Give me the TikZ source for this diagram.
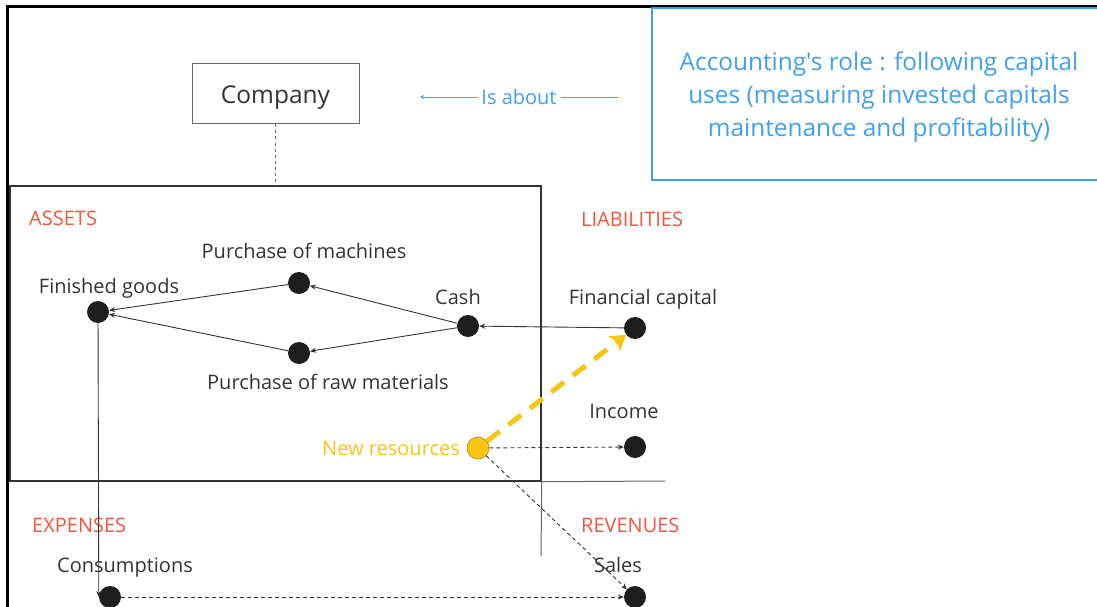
\documentclass[tikz,border=0pt]{standalone}
\usepackage{fontspec}
\setmainfont{Open Sans}
\newfontfamily\rolefont{Open Sans}
\usetikzlibrary{shapes,arrows.meta}

\definecolor{dotgray}{HTML}{1E1E1E}
\definecolor{boxgray}{HTML}{666666}
\definecolor{rolebl}{HTML}{3FA0EE}
\definecolor{catred}{HTML}{F2553B}
\definecolor{resyel}{HTML}{F7C514}
\definecolor{txtgray}{HTML}{333333}

\tikzset{
  dot/.style={shape=circle,fill=dotgray,draw=none,minimum size=22pt,inner sep=0pt},
  lbl/.style={text=txtgray,font=\fontsize{20}{22}\selectfont,inner sep=0pt,text height=14.5pt,text depth=0pt},
  cat/.style={lbl,text=catred},
  flow/.style={-{Stealth[length=6pt,width=5pt]},draw=txtgray,line width=0.9pt},
  dflow/.style={flow,dash pattern=on 4pt off 3pt}
}

\begin{document}
\begin{tikzpicture}[x=1pt,y=-1pt]
\useasboundingbox (0,0) rectangle (1097,607);
\draw[line width=3pt] (7,607) -- (7,7) -- (1097,7);

\node[shape=rectangle,draw=boxgray,line width=1pt,minimum width=167pt,minimum height=60pt,text=txtgray,font=\fontsize{24.5}{26}\selectfont,text height=19pt,text depth=0pt] (company) at (275.5,94) {Company};
\draw[draw=rolebl,line width=2pt] (1100,8) -| (652,180) -- (1100,180);
\node[text=rolebl,align=center,font=\rolefont\fontsize{24.4}{33}\selectfont] (role) at (879,97) {Accounting's role : following capital\\uses (measuring invested capitals\\maintenance and profitability)};
\coordinate (roleend) at (618,97);
\coordinate (aboutend) at (420,97);
\node[shape=rectangle,draw=txtgray,line width=1.5pt,minimum width=531pt,minimum height=295pt] (assets) at (275.5,333.5) {};
\coordinate (sepend) at (665,481);
\coordinate (sepdown) at (541,556);

\node[cat,anchor=west] (assetslbl) at (29,218) {ASSETS};
\node[cat,anchor=west] (liablbl) at (581,219) {LIABILITIES};
\node[cat,anchor=west] (explbl) at (32,525) {EXPENSES};
\node[cat,anchor=west] (revlbl) at (581,525) {REVENUES};

\node[dot] (finished) at (98,312) {};
\node[dot] (machines) at (299,283) {};
\node[dot] (raw) at (299,353) {};
\node[dot] (cash) at (468,326) {};
\node[dot] (fincap) at (635,328) {};
\node[dot] (income) at (635,447) {};
\node[shape=circle,fill=resyel,draw=resyel!70!black,line width=0.6pt,minimum size=22pt,inner sep=0pt] (newres) at (478,448) {};
\node[dot] (consum) at (110,597) {};
\node[dot] (sales) at (635,597) {};

\node[lbl] (finishedlbl) at (109,286) {Finished goods};
\node[lbl] (machineslbl) at (304,251) {Purchase of machines};
\node[lbl] (rawlbl) at (328,382) {Purchase of raw materials};
\node[lbl] (cashlbl) at (458,297) {Cash};
\node[lbl] (fincaplbl) at (643,297) {Financial capital};
\node[lbl] (incomelbl) at (624,411) {Income};
\node[lbl,text=resyel,anchor=east] (newreslbl) at (460,448) {New resources};
\node[lbl] (consumlbl) at (125,565) {Consumptions};
\node[lbl] (saleslbl) at (618,565) {Sales};

\path (company) edge[draw=boxgray,line width=1pt,dashed] node {} (assets.north);
\path (roleend) edge[-{Stealth[length=4pt,width=4pt]},draw=rolebl,line width=0.8pt] node[fill=white,text=rolebl,font=\fontsize{20}{22}\selectfont,inner sep=4pt] {Is about} (aboutend);
\path (assets.south east) edge[draw=boxgray,line width=1pt] node {} (sepend);
\path (assets.south east) edge[draw=boxgray,line width=1pt] node {} (sepdown);

\path (cash) edge[flow] node {} (machines);
\path (cash) edge[flow] node {} (raw);
\path (machines) edge[flow] node {} (finished);
\path (raw) edge[flow] node {} (finished);
\path (fincap) edge[flow] node {} (cash);
\path (finished) edge[flow] node {} (consum.west);
\path (consum) edge[dflow] node {} (sales);
\path (newres) edge[dflow] node {} (income);
\path (newres) edge[dflow] node {} (sales);
\path (newres) edge[-{Stealth[length=15pt,width=19pt,inset=4pt,fill=resyel]},draw=resyel,line width=5pt,dash pattern=on 16pt off 11pt] node {} (fincap);
\end{tikzpicture}
\end{document}
